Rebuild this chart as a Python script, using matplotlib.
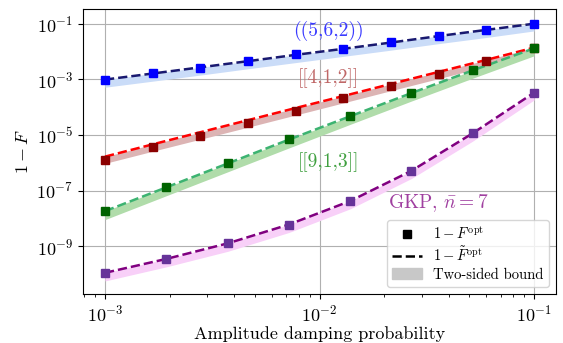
import numpy as np
import matplotlib
matplotlib.use("Agg")
import matplotlib.pyplot as plt
from matplotlib.lines import Line2D
from matplotlib.patches import Patch

plt.rcParams["font.family"] = "serif"
plt.rcParams["font.serif"] = ["cmr10"]
plt.rcParams["mathtext.fontset"] = "cm"
plt.rcParams["axes.formatter.use_mathtext"] = True
plt.rcParams["axes.unicode_minus"] = False

# probabilites d'amortissement
p_10 = [1.0e-3, 1.67e-3, 2.78e-3, 4.64e-3, 7.74e-3, 1.29e-2, 2.15e-2, 3.59e-2, 5.99e-2, 1.0e-1]
p_8 = [1.0e-3, 1.93e-3, 3.73e-3, 7.2e-3, 1.39e-2, 2.68e-2, 5.18e-2, 1.0e-1]

# ((5,6,2))
c562_opt = [9.8e-4, 1.66e-3, 2.63e-3, 4.57e-3, 8.1e-3, 1.23e-2, 2.14e-2, 3.7e-2, 6.0e-2, 1.0e-1]
c562_tilde = [9.8e-4, 1.62e-3, 2.7e-3, 4.5e-3, 7.6e-3, 1.25e-2, 2.1e-2, 3.6e-2, 6.0e-2, 1.0e-1]
c562_low = [5.2e-4, 8.6e-4, 1.42e-3, 2.4e-3, 4.0e-3, 6.7e-3, 1.12e-2, 1.92e-2, 3.2e-2, 5.5e-2]

# [[4,1,2]]
c412_opt = [1.26e-6, 3.55e-6, 9.3e-6, 2.69e-5, 7.4e-5, 2.09e-4, 5.75e-4, 1.58e-3, 4.57e-3, 1.29e-2]
c412_tilde = [1.66e-6, 4.6e-6, 1.25e-5, 3.4e-5, 9.3e-5, 2.5e-4, 6.8e-4, 1.85e-3, 5.0e-3, 1.38e-2]
c412_low = [9.5e-7, 2.6e-6, 7.0e-6, 1.9e-5, 5.2e-5, 1.42e-4, 3.9e-4, 1.06e-3, 2.9e-3, 8.0e-3]

# [[9,1,3]]
c913_opt = [1.82e-8, 1.29e-7, 9.5e-7, 6.9e-6, 4.8e-5, 3.3e-4, 2.14e-3, 1.29e-2]
c913_tilde = [1.82e-8, 1.3e-7, 9.4e-7, 6.8e-6, 4.7e-5, 3.2e-4, 2.1e-3, 1.3e-2]
c913_low = [9.0e-9, 6.5e-8, 4.7e-7, 3.4e-6, 2.4e-5, 1.65e-4, 1.1e-3, 7.0e-3]

# GKP, nbar = 7
gkp_opt = [1.1e-10, 3.47e-10, 1.26e-9, 6.0e-9, 4.2e-8, 5.1e-7, 1.15e-5, 3.3e-4]
gkp_tilde = [1.1e-10, 3.47e-10, 1.26e-9, 6.0e-9, 4.2e-8, 5.1e-7, 1.15e-5, 3.3e-4]
gkp_low = [5.6e-11, 1.8e-10, 6.5e-10, 3.1e-9, 2.2e-8, 2.7e-7, 6.0e-6, 1.8e-4]

fig = plt.figure(figsize=(5.63, 3.43), dpi=100)
ax = fig.add_axes([0.1474, 0.1429, 0.8402, 0.8309])

series = [
    (p_10, c562_opt, c562_tilde, c562_low, "#0000ff", "#191970", "#cadcf8"),
    (p_10, c412_opt, c412_tilde, c412_low, "#8b0000", "#ff0000", "#dcb4b4"),
    (p_8, c913_opt, c913_tilde, c913_low, "#006400", "#3cb371", "#b0dcaa"),
    (p_8, gkp_opt, gkp_tilde, gkp_low, "#663399", "#800080", "#f8d0f8"),
]

for p, opt, tilde, low, mcol, lcol, bcol in series:
    ax.fill_between(p, low, tilde, color=bcol, lw=0, zorder=1)
    ax.plot(p, tilde, "--", color=lcol, lw=1.8, zorder=2)
    ax.plot(p, opt, "s", color=mcol, ms=5.5, zorder=3)

ax.set_xscale("log")
ax.set_yscale("log")
ax.set_xlim(10 ** -3.1026, 10 ** -0.8974)
ax.set_ylim(10 ** -10.72, 10 ** -0.47)
ax.set_yticks([1e-9, 1e-7, 1e-5, 1e-3, 1e-1])
ax.yaxis.set_minor_locator(matplotlib.ticker.NullLocator())
ax.grid(True, which="major", color="#b0b0b0", lw=0.8)
ax.set_axisbelow(True)
ax.tick_params(labelsize=13)

ax.set_xlabel("Amplitude damping probability", fontsize=13, labelpad=1)
ax.set_ylabel("$1-F$", fontsize=13)

ax.text(1.1e-2, 5.5e-2, "((5,6,2))", color="#3a3aff", fontsize=14, ha="center", va="center")
ax.text(1.1e-2, 1.12e-3, "[[4,1,2]]", color="#c06868", fontsize=14, ha="center", va="center")
ax.text(1.1e-2, 1.07e-6, "[[9,1,3]]", color="#40a040", fontsize=14, ha="center", va="center")
ax.text(3.57e-2, 3.5e-8, r"GKP, $\bar{n}=7$", color="#a040a0", fontsize=14, ha="center", va="center")

handles = [
    Line2D([], [], ls="", marker="s", color="black", ms=5.5),
    Line2D([], [], ls="--", color="black", lw=1.8),
    Patch(color="#c8c8c8"),
]
labels = [r"$1-F^{\rm opt}$", r"$1-\tilde{F}^{\rm opt}$", "Two-sided bound"]
ax.legend(handles, labels, loc="lower right", fontsize=10.5, labelspacing=0.25,
          handlelength=2.0, borderpad=0.35)

plt.savefig("out.png")
